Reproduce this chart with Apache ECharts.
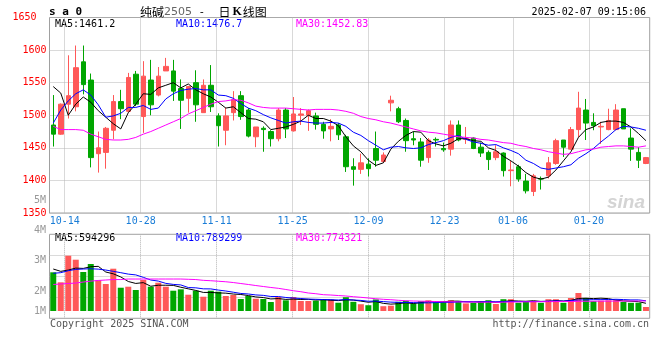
<!DOCTYPE html>
<html><head><meta charset="utf-8">
<script src="https://cdn.jsdelivr.net/npm/echarts@6/dist/echarts.min.js"></script>
<style>html,body{margin:0;padding:0;background:#fff}#c{width:660px;height:360px}</style>
</head><body><div id="c"></div>
<script>
const dates = ['10-10','10-11','10-14','10-15','10-16','10-17','10-18','10-21','10-22','10-23','10-24','10-25','10-28','10-29','10-30','10-31','11-01','11-04','11-05','11-06','11-07','11-08','11-11','11-12','11-13','11-14','11-15','11-18','11-19','11-20','11-21','11-22','11-25','11-26','11-27','11-28','11-29','12-02','12-03','12-04','12-05','12-06','12-09','12-10','12-11','12-12','12-13','12-16','12-17','12-18','12-19','12-20','12-23','12-24','12-25','12-26','12-27','12-30','12-31','01-02','01-03','01-06','01-07','01-08','01-09','01-10','01-13','01-14','01-15','01-16','01-17','01-20','01-21','01-22','01-23','01-24','01-27','02-05','02-06','02-07'];
const dateLabels = ['10-14','10-28','11-11','11-25','12-09','12-23','01-06','01-20'];

const opens  = [1485,1471,1517,1513,1582,1554,1441,1443,1477,1521,1506,1563,1498,1554,1531,1568,1568,1541,1526,1550,1504,1546,1499,1477,1504,1530,1508,1467,1480,1475,1464,1508,1476,1500,1500,1499,1486,1479,1485,1467,1421,1417,1425,1449,1429,1519,1510,1492,1464,1459,1435,1463,1449,1448,1485,1463,1465,1451,1443,1435,1442,1415,1421,1399,1383,1403,1407,1426,1462,1448,1478,1508,1489,1482,1478,1478,1510,1465,1443,1426];
const closes = [1471,1517,1530,1573,1547,1435,1450,1480,1521,1510,1558,1517,1560,1516,1560,1575,1537,1523,1544,1516,1546,1513,1484,1499,1524,1498,1468,1482,1478,1464,1508,1479,1502,1502,1507,1486,1476,1483,1470,1421,1417,1427,1418,1431,1439,1523,1490,1461,1462,1431,1462,1462,1447,1485,1462,1464,1449,1442,1432,1444,1415,1416,1402,1384,1407,1402,1427,1461,1451,1478,1511,1488,1484,1483,1492,1508,1479,1448,1431,1435];
const highs  = [1531,1518,1592,1607,1607,1564,1475,1482,1531,1539,1565,1568,1583,1585,1574,1588,1585,1555,1545,1569,1555,1577,1503,1512,1537,1537,1511,1482,1483,1477,1511,1511,1528,1511,1509,1504,1490,1494,1488,1470,1434,1441,1434,1475,1443,1530,1513,1495,1475,1465,1465,1466,1458,1492,1492,1482,1466,1458,1446,1454,1443,1430,1424,1410,1410,1406,1436,1464,1462,1482,1536,1525,1503,1490,1510,1517,1510,1480,1451,1436];
const lows   = [1452,1470,1495,1506,1532,1420,1412,1418,1463,1494,1504,1514,1473,1500,1529,1568,1522,1479,1504,1490,1504,1505,1452,1454,1492,1493,1466,1451,1444,1452,1460,1465,1475,1485,1476,1478,1464,1460,1462,1413,1392,1410,1406,1421,1427,1506,1488,1444,1454,1421,1427,1452,1444,1438,1460,1456,1448,1436,1416,1431,1406,1391,1398,1380,1376,1386,1403,1424,1436,1447,1466,1462,1477,1456,1477,1477,1479,1430,1419,1425];

const ma5  = [1544,1534,1500,1517,1528,1520,1507,1497,1487,1479,1504,1517,1533,1532,1542,1546,1550,1542,1548,1539,1533,1528,1520,1511,1513,1504,1495,1494,1490,1478,1480,1482,1486,1491,1500,1495,1495,1491,1484,1467,1453,1444,1431,1423,1427,1448,1460,1469,1475,1474,1461,1456,1453,1457,1464,1464,1461,1460,1450,1446,1437,1430,1422,1412,1405,1402,1405,1416,1430,1444,1466,1478,1482,1489,1491,1491,1489,1482,1472,1461];
const ma10 = [1488,1508,1522,1533,1539,1531,1516,1497,1499,1503,1512,1512,1515,1509,1511,1525,1533,1538,1540,1541,1539,1539,1531,1530,1526,1518,1511,1507,1501,1496,1492,1488,1490,1491,1489,1488,1488,1489,1488,1483,1474,1469,1461,1454,1447,1451,1452,1450,1449,1450,1455,1458,1461,1466,1469,1463,1459,1457,1454,1455,1450,1446,1441,1431,1426,1419,1417,1419,1421,1424,1434,1441,1449,1459,1468,1478,1483,1482,1480,1477];
const ma30 = [1483,1478,1478,1478,1477,1471,1467,1463,1462,1462,1463,1466,1471,1475,1480,1485,1490,1495,1502,1507,1512,1517,1521,1522,1524,1523,1519,1514,1512,1511,1511,1511,1510,1509,1508,1509,1509,1509,1508,1506,1503,1498,1495,1493,1490,1488,1485,1482,1479,1476,1474,1473,1471,1469,1467,1466,1465,1463,1462,1460,1458,1457,1454,1452,1449,1447,1444,1442,1440,1441,1444,1447,1448,1451,1452,1453,1453,1452,1451,1453];

// volume, in thousands of lots
const volumesK = [2977,2208,4254,3946,3000,3615,2362,2077,3254,1792,1869,1615,2385,1869,2177,1869,1562,1669,1254,1562,1100,1562,1485,1154,1231,923,1154,946,923,692,1077,823,1077,769,769,792,923,885,638,1062,708,523,446,892,369,408,708,785,585,754,823,677,708,831,754,585,615,754,831,538,908,908,638,754,754,631,908,908,631,1000,1385,1000,754,792,823,823,692,631,638,308];
const volMa5K  = [3230,3050,3150,3300,3277,3405,3435,3000,2862,2620,2271,2121,2183,1906,1983,1983,1972,1829,1706,1583,1429,1429,1393,1373,1306,1271,1189,1082,1035,928,958,892,918,888,903,846,866,828,801,860,843,763,675,726,588,528,565,632,571,648,731,725,709,759,759,711,699,708,708,665,729,788,765,749,792,737,737,791,766,816,966,985,954,986,951,838,777,752,721,594];
const volMa10K = [2900,2950,3100,3200,3230,3250,3220,3150,3050,2949,2838,2778,2592,2384,2302,2127,2047,2006,1806,1783,1706,1701,1611,1539,1445,1350,1309,1237,1204,1117,1115,1041,1000,962,915,902,879,873,845,882,845,815,752,764,724,685,664,654,649,618,629,645,671,665,703,721,712,709,733,712,720,743,736,729,729,733,762,778,758,804,852,861,873,876,883,902,881,853,854,789];
const volMa30K = [2040,2080,2115,2150,2230,2300,2350,2385,2420,2420,2460,2460,2460,2460,2460,2460,2460,2460,2440,2420,2360,2330,2290,2250,2190,2115,2040,1960,1885,1810,1745,1655,1560,1485,1385,1330,1255,1230,1190,1155,1100,1055,1000,945,900,870,825,790,770,755,745,730,715,710,700,690,690,680,680,670,680,690,700,705,710,715,720,725,730,735,745,750,755,760,762,765,768,770,772,774];

const volTickLabels = ['5M','4M','3M','2M','1M'];
const priceLegend = ['MA5:1461.2','MA10:1476.7','MA30:1452.83'];
const volLegend = ['MA5:594296','MA10:789299','MA30:774321'];

const RED = '#ff5858', GREEN = '#00a600';
const MONO = 'DejaVu Sans Mono';
const GRIDC = '#b4b4b4';
const isLabel = (i, v) => dateLabels.indexOf(v) >= 0;

const volTickY = [200.7, 230.3, 260.3, 291, 311];
const legendX = [55, 176, 296];
const legendColors = ['#000000', '#0000ff', '#ff00ff'];

const graphics = [];
volTickLabels.forEach((t, i) => graphics.push({type:'text', style:{text:t, x:46, y:volTickY[i], textAlign:'right', textVerticalAlign:'middle', fill:'#999999', font:'10px "' + MONO + '"'}}));
priceLegend.forEach((t, i) => graphics.push({type:'text', style:{text:t, x:legendX[i], y:24, textVerticalAlign:'middle', fill:legendColors[i], font:'10px "' + MONO + '"'}}));
volLegend.forEach((t, i) => graphics.push({type:'text', style:{text:t, x:legendX[i], y:238.5, textVerticalAlign:'middle', fill:legendColors[i], font:'10px "' + MONO + '"'}}));
graphics.push({type:'text', style:{text:'s a 0', x:49, y:12, textVerticalAlign:'middle', fill:'#000', font:'bold 11px "' + MONO + '"'}});
graphics.push({type:'text', style:{
  text:'{a|纯碱}{b|2505}{c| -  }{a|日}{k|K}{a|线图}', x:140, y:12, textVerticalAlign:'middle',
  rich:{
    a:{fontFamily:'Noto Sans CJK SC', fontSize:12, fill:'#000'},
    b:{fontFamily:'DejaVu Sans', fontSize:11, fill:'#666'},
    c:{fontFamily:MONO, fontSize:11, fill:'#000'},
    k:{fontFamily:'Liberation Serif', fontSize:12, fontWeight:'bold', fill:'#000', padding:[0,1,0,2]}
  }}});
graphics.push({type:'text', style:{text:'2025-02-07 09:15:06', x:646, y:12, textAlign:'right', textVerticalAlign:'middle', fill:'#000', font:'10px "' + MONO + '"'}});
graphics.push({type:'text', style:{text:'Copyright 2025 SINA.COM', x:50, y:324, textVerticalAlign:'middle', fill:'#555', font:'10px "' + MONO + '"'}});
graphics.push({type:'text', style:{text:'http://finance.sina.com.cn', x:649, y:324, textAlign:'right', textVerticalAlign:'middle', fill:'#555', font:'10px "' + MONO + '"'}});
graphics.push({type:'text', style:{text:'sina', x:626, y:203, textAlign:'center', textVerticalAlign:'middle', fill:'#d4d4d4', font:'italic bold 19px "Liberation Sans"'}});

const dotted = {color: GRIDC, type: 'dotted', width: 1};
const hiddenCat = (g, pos) => ({gridIndex:g, type:'category', data:dates, boundaryGap:true, position:pos,
  axisLine:{show:false}, axisTick:{show:false}, axisLabel:{show:false}, splitLine:{show:false}});
const gridCat = (g, labels) => ({gridIndex:g, type:'category', data:dates, boundaryGap:false, position:'bottom',
  axisLine:{show:false}, axisTick:{show:false},
  axisLabel:{show:labels, interval:isLabel, color:'#1a7dd7', fontFamily:MONO, fontSize:10, margin:3},
  splitLine:{show:true, interval:isLabel, lineStyle:dotted}});

const lineSeries = (data, color, xi, yi) => ({type:'line', data, xAxisIndex:xi, yAxisIndex:yi, symbol:'none',
  lineStyle:{color, width:1}, itemStyle:{color}, silent:true, z:3});

const option = {
  animation: false,
  backgroundColor: '#fff',
  grid: [
    {left:49.5, right:10.3, top:17.5, height:195.5, show:true, borderColor:'#a0a0a0', borderWidth:1, backgroundColor:'transparent'},
    {left:49.5, right:10.3, top:234.3, height:84, show:true, borderColor:'#a0a0a0', borderWidth:1, backgroundColor:'transparent'}
  ],
  xAxis: [hiddenCat(0, 'top'), gridCat(0, true), hiddenCat(1, 'top'), gridCat(1, false)],
  yAxis: [
    {gridIndex:0, type:'value', min:1350, max:1650, interval:50,
     axisLine:{show:false}, axisTick:{show:false},
     axisLabel:{color:'#ff0000', fontFamily:MONO, fontSize:10, margin:3,
       formatter: v => v === 1650 ? '{t|' + v + '}' : String(v),
       rich:{t:{color:'#ff0000', fontFamily:MONO, fontSize:10, padding:[0,10,0,0]}}},
     splitLine:{show:true, lineStyle:dotted}},
    {gridIndex:1, type:'value', min:-560, max:5900, show:false, splitLine:{show:false}},
    {gridIndex:1, type:'value', min:0, max:4, interval:1, position:'left',
     axisLine:{show:false}, axisTick:{show:false}, axisLabel:{show:false},
     splitLine:{show:true, lineStyle:dotted}}
  ],
  graphic: graphics,
  series: [
    {type:'candlestick', xAxisIndex:0, yAxisIndex:0, barWidth:5,
     data: dates.map((d, i) => [opens[i], closes[i], lows[i], highs[i]]),
     itemStyle:{color:RED, color0:GREEN, borderColor:RED, borderColor0:GREEN, borderWidth:1}, z:2},
    lineSeries(ma5, '#000000', 0, 0),
    lineSeries(ma10, '#0000ff', 0, 0),
    lineSeries(ma30, '#ff00ff', 0, 0),
    {type:'bar', xAxisIndex:2, yAxisIndex:1, barWidth:6,
     data: volumesK.map((v, i) => ({value:v, itemStyle:{color: closes[i] > opens[i] ? RED : GREEN}})), z:2},
    lineSeries(volMa5K, '#000000', 2, 1),
    lineSeries(volMa10K, '#0000ff', 2, 1),
    lineSeries(volMa30K, '#ff00ff', 2, 1)
  ]
};
const chart = echarts.init(document.getElementById('c'), null, {renderer:'canvas'});
chart.setOption(option);
</script></body></html>
